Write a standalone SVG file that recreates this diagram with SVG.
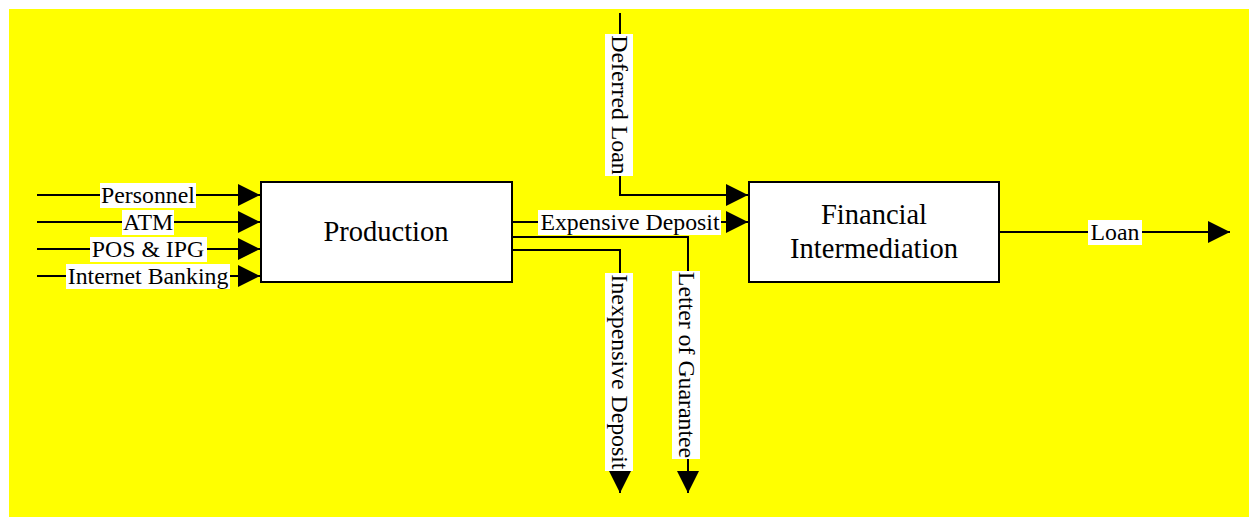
<svg xmlns="http://www.w3.org/2000/svg" width="1252" height="517" viewBox="0 0 1252 517">
<style>
.ln{fill:none;stroke:#000;stroke-width:2}
.box{fill:#fff;stroke:#000;stroke-width:2}
.lb{fill:#fff;stroke:none}
text{font-family:"Liberation Serif","Times New Roman",serif;fill:#000}
.t{font-size:23.8px;text-anchor:middle}
.n{font-size:28.5px;text-anchor:middle}
</style>
<defs>
<marker id="ah" markerWidth="22" markerHeight="22" viewBox="0 0 22 22" refX="22" refY="11" orient="auto" markerUnits="userSpaceOnUse">
<path d="M0,0 L22,11 L0,22 Z" fill="#000"/>
</marker>
</defs>
<rect x="0" y="0" width="1252" height="517" fill="#fff"/>
<rect x="9" y="9" width="1240" height="508" fill="#ffff00"/>
<g id="connectors">
<path class="ln" d="M37,195 H260" marker-end="url(#ah)"/>
<path class="ln" d="M37,222 H260" marker-end="url(#ah)"/>
<path class="ln" d="M37,249 H260" marker-end="url(#ah)"/>
<path class="ln" d="M37,276 H260" marker-end="url(#ah)"/>
<path class="ln" d="M620,13 V195 H748" marker-end="url(#ah)"/>
<path class="ln" d="M512,222 H748" marker-end="url(#ah)"/>
<path class="ln" d="M512,237 H688 V493" marker-end="url(#ah)"/>
<path class="ln" d="M512,250 H620 V493" marker-end="url(#ah)"/>
<path class="ln" d="M1000,232 H1230" marker-end="url(#ah)"/>
<rect class="lb" x="100" y="183" width="96" height="25"/>
<text class="t" x="148" y="203">Personnel</text>
<rect class="lb" x="122" y="210" width="52" height="25"/>
<text class="t" x="148" y="230">ATM</text>
<rect class="lb" x="90" y="237" width="117" height="25"/>
<text class="t" x="148" y="257">POS &amp; IPG</text>
<rect class="lb" x="66" y="264" width="164" height="25"/>
<text class="t" x="148" y="284">Internet Banking</text>
<rect class="lb" x="538" y="210" width="183" height="25"/>
<text class="t" x="630" y="230">Expensive Deposit</text>
<rect class="lb" x="1088" y="220" width="54" height="25"/>
<text class="t" x="1115" y="240">Loan</text>
<g transform="translate(620,105) rotate(90)">
<rect class="lb" x="-71" y="-13" width="142" height="28"/>
<text class="t" x="0" y="8">Deferred Loan</text>
</g>
<g transform="translate(620,372) rotate(90)">
<rect class="lb" x="-99" y="-13" width="198" height="28"/>
<text class="t" x="0" y="8">Inexpensive Deposit</text>
</g>
<g transform="translate(687,365) rotate(90)">
<rect class="lb" x="-94" y="-13" width="188" height="28"/>
<text class="t" x="0" y="8">Letter of Guarantee</text>
</g>
</g>
<g id="production">
<rect class="box" x="261" y="182" width="251" height="100"/>
<text class="n" x="386" y="241">Production</text>
</g>
<g id="financial-intermediation">
<rect class="box" x="749" y="182" width="250" height="100"/>
<text class="n" x="874" y="224">Financial</text>
<text class="n" x="874" y="258">Intermediation</text>
</g>
</svg>
